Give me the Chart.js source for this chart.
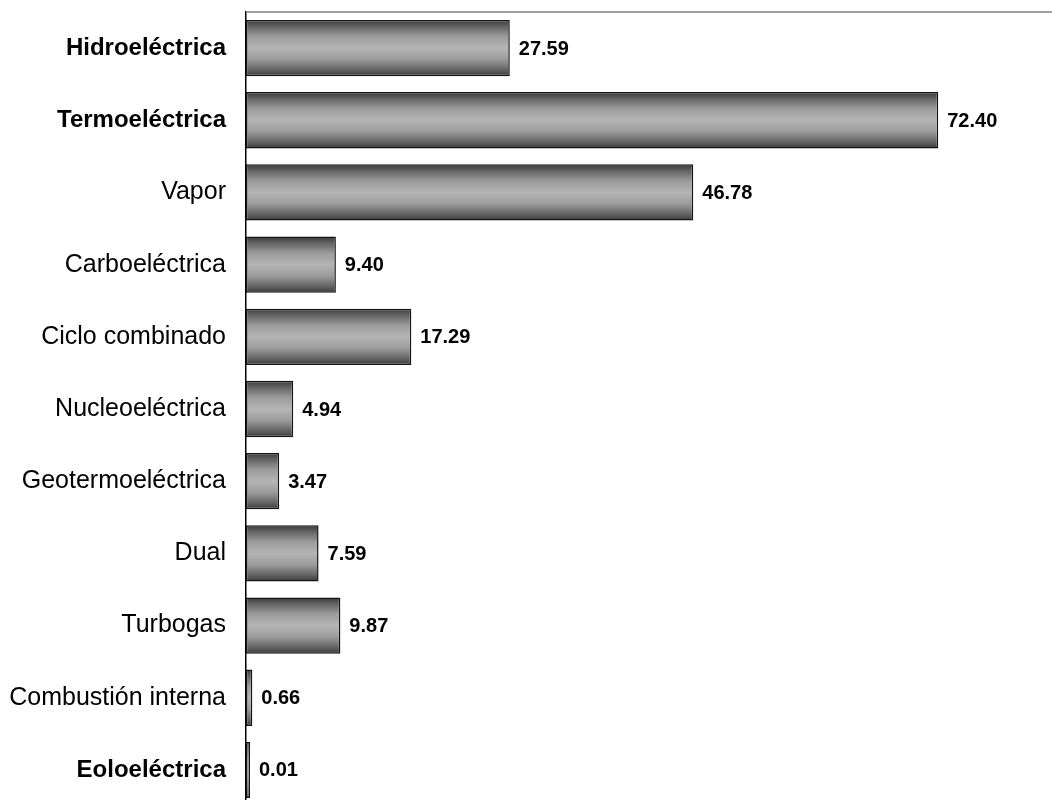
<!DOCTYPE html>
<html>
<head>
<meta charset="utf-8">
<script src="https://cdn.jsdelivr.net/npm/chart.js@4.4.1/dist/chart.umd.min.js"></script>
<style>
  html, body { margin: 0; padding: 0; background: #fff; overflow: hidden; }
  #wrap { width: 1052px; height: 806px; position: relative; }
</style>
</head>
<body>
<div id="wrap"><canvas id="c"></canvas></div>
<script>
const categories = ["Hidroeléctrica", "Termoeléctrica", "Vapor", "Carboeléctrica", "Ciclo combinado",
  "Nucleoeléctrica", "Geotermoeléctrica", "Dual", "Turbogas", "Combustión interna", "Eoloeléctrica"];
const values = [27.59, 72.40, 46.78, 9.40, 17.29, 4.94, 3.47, 7.59, 9.87, 0.66, 0.01];
const boldCategories = ["Hidroeléctrica", "Termoeléctrica", "Eoloeléctrica"];
const xMin = 0;
const xMax = 84.3;

const BAR_PCT = 0.78;

function barGradient(c) {
  const chart = c.chart;
  const ys = chart.scales && chart.scales.y;
  if (!ys || !chart.chartArea) return '#909090';
  const cy = ys.getPixelForValue(c.dataIndex);
  const step = Math.abs(ys.getPixelForValue(1) - ys.getPixelForValue(0));
  const h = step * BAR_PCT;
  const g = chart.ctx.createLinearGradient(0, cy - h / 2, 0, cy + h / 2);
  g.addColorStop(0, '#383838');
  g.addColorStop(0.12, '#656565');
  g.addColorStop(0.3, '#9c9c9c');
  g.addColorStop(0.5, '#b5b5b5');
  g.addColorStop(0.7, '#9c9c9c');
  g.addColorStop(0.88, '#656565');
  g.addColorStop(1, '#3a3a3a');
  return g;
}

const frameAndLabels = {
  id: 'frameAndLabels',
  beforeDatasetsDraw(chart) {
    const ctx = chart.ctx;
    const a = chart.chartArea;
    ctx.save();
    ctx.strokeStyle = '#808080';
    ctx.lineWidth = 1.5;
    ctx.beginPath();
    ctx.moveTo(a.left, a.top);
    ctx.lineTo(chart.width, a.top);
    ctx.stroke();
    ctx.restore();
  },
  afterDatasetsDraw(chart) {
    const ctx = chart.ctx;
    const meta = chart.getDatasetMeta(0);
    ctx.save();
    ctx.font = 'bold 20px "Liberation Sans", Arial, sans-serif';
    ctx.fillStyle = '#000';
    ctx.textAlign = 'left';
    ctx.textBaseline = 'middle';
    meta.data.forEach((el, i) => {
      ctx.fillText(values[i].toFixed(2), el.x + 9, el.y + 1);
    });
    ctx.restore();
  }
};

new Chart(document.getElementById('c'), {
  type: 'bar',
  data: {
    labels: categories,
    datasets: [{
      data: values,
      backgroundColor: barGradient,
      borderColor: '#151515',
      borderWidth: 1.5,
      borderSkipped: false,
      minBarLength: 4,
      barPercentage: BAR_PCT,
      categoryPercentage: 1.0
    }]
  },
  options: {
    indexAxis: 'y',
    responsive: true,
    maintainAspectRatio: false,
    animation: false,
    layout: { padding: { top: 12, right: 0, bottom: 0, left: 0 } },
    plugins: { legend: { display: false }, tooltip: { enabled: false } },
    scales: {
      x: {
        display: false,
        min: xMin,
        max: xMax
      },
      y: {
        grid: { display: false, drawTicks: false },
        border: { display: true, color: '#000', width: 1.5 },
        afterFit(scale) {
          scale.width = 246;
          scale.paddingTop = 0;
          scale.paddingBottom = 0;
        },
        ticks: {
          padding: 20,
          color: '#000',
          font: (c) => {
            const b = boldCategories.includes(categories[c.index]);
            return {
              family: '"Liberation Sans", Arial, sans-serif',
              size: b ? 24 : 25,
              weight: b ? 'bold' : 'normal'
            };
          }
        }
      }
    }
  },
  plugins: [frameAndLabels]
});
</script>
</body>
</html>
